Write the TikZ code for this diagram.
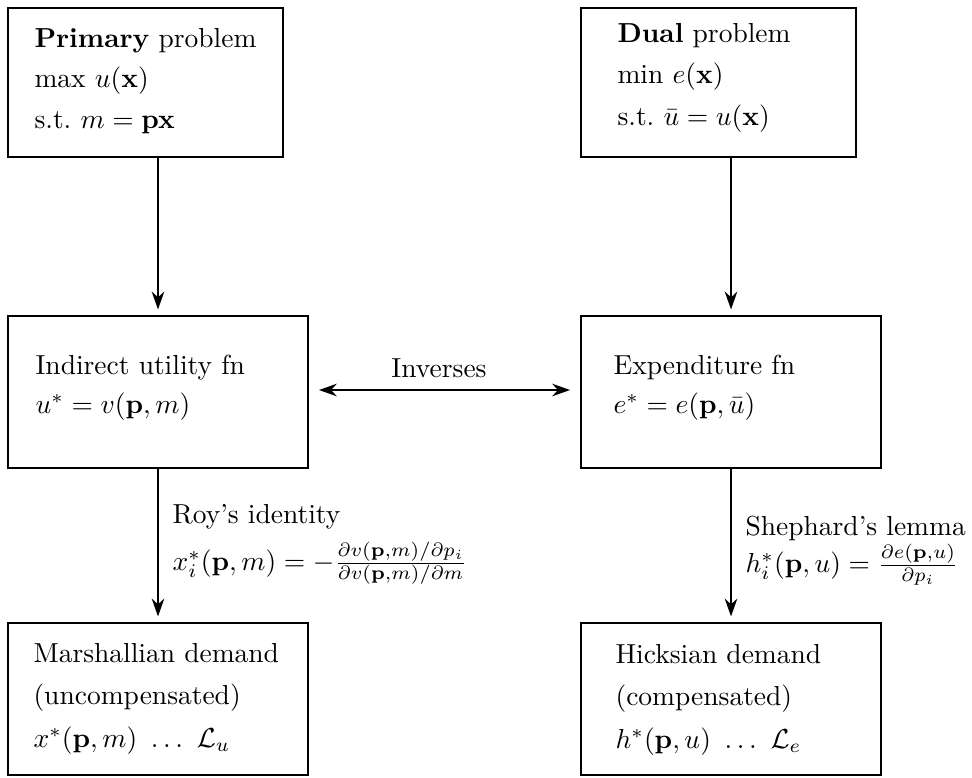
\documentclass[tikz,border=0pt]{standalone}
\usetikzlibrary{arrows.meta,fit}
\begin{document}
\begin{tikzpicture}[x=0.36364pt,y=-0.36364pt,
  box/.style={draw, line width=0.8pt, inner sep=0pt, rectangle},
  txt/.style={anchor=base west, inner sep=0pt},
  conn/.style={line width=0.5pt, -{Stealth[length=6.5pt,width=4.6pt]}},
  biconn/.style={line width=0.5pt, {Stealth[length=6.5pt,width=4.6pt]}-{Stealth[length=6.5pt,width=4.6pt]}}]
\useasboundingbox (0,0) rectangle (972,777);
% boxes
\node[box, fit={(8,8) (283,157)}] (b1) {};
\node[box, fit={(581,8) (856,157)}] (b2) {};
\node[box, fit={(8,316) (308,468)}] (b3) {};
\node[box, fit={(581,316) (881,468)}] (b4) {};
\node[box, fit={(8,623) (308,775)}] (b5) {};
\node[box, fit={(581,623) (881,775)}] (b6) {};
% box texts
\node[txt] (t1a) at (34,47) {\textbf{Primary} problem};
\node[txt] (t1b) at (34,87) {max~$u(\mathbf{x})$};
\node[txt] (t1c) at (34,128) {s.t.~$m=\mathbf{px}$};
\node[txt] (t2a) at (617,42) {\textbf{Dual} problem};
\node[txt] (t2b) at (617,83) {min~$e(\mathbf{x})$};
\node[txt] (t2c) at (617,125) {s.t.~$\bar{u}=u(\mathbf{x})$};
\node[txt] (t3a) at (35,374) {Indirect utility fn};
\node[txt] (t3b) at (35,413) {$u^*=v(\mathbf{p},m)$};
\node[txt] (t4a) at (613,374) {Expenditure fn};
\node[txt] (t4b) at (613,413) {$e^*=e(\mathbf{p},\bar{u})$};
\node[txt] (t5a) at (33,662) {Marshallian demand};
\node[txt] (t5b) at (33,704) {(uncompensated)};
\node[txt] (t5c) at (33,747) {$x^*(\mathbf{p},m)\ \ldots\ \mathcal{L}_u$};
\node[txt] (t6a) at (615,663) {Hicksian demand};
\node[txt] (t6b) at (615,705) {(compensated)};
\node[txt] (t6c) at (615,748) {$h^*(\mathbf{p},u)\ \ldots\ \mathcal{L}_e$};
% connectors
\draw[conn, shorten >=2pt] (b1.south -| b3.north) -- (b3.north);
\draw[conn, shorten >=2pt] (b2.south -| b4.north) -- (b4.north);
\draw[conn, shorten >=2pt] (b3.south) -- (b5.north);
\draw[conn, shorten >=2pt] (b4.south) -- (b6.north);
\draw[biconn, shorten <=3.6pt, shorten >=3.6pt] (b3.east |- 0,390) -- (b4.west |- 0,390);
% connector labels
\node[anchor=base, inner sep=0pt] (linv) at (439,377) {Inverses};
\node[txt] (lroy) at (172,523) {Roy's identity};
\node[txt] (lroyf) at (172,570) {$x_i^*(\mathbf{p},m)=-\frac{\partial v(\mathbf{p},m)/\partial p_i}{\partial v(\mathbf{p},m)/\partial m}$};
\node[txt] (lshe) at (745,535) {Shephard's lemma};
\node[txt] (lshef) at (745,572) {$h_i^*(\mathbf{p},u)=\frac{\partial e(\mathbf{p},u)}{\partial p_i}$};
\end{tikzpicture}
\end{document}
